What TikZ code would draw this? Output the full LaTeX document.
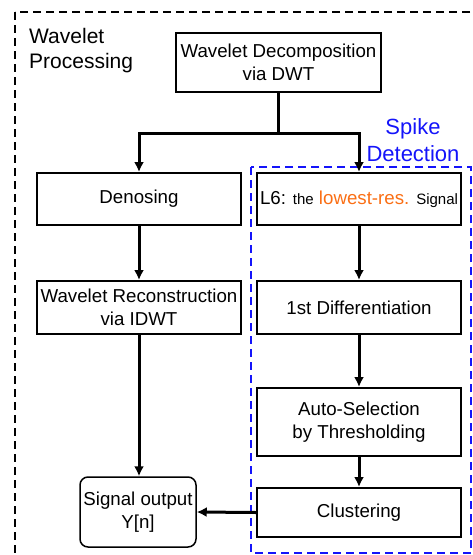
\documentclass[tikz,border=0pt]{standalone}
\usepackage{fontspec}
\setmainfont{Liberation Sans}
\usepackage{xcolor}
\usepackage{tikz}
\usetikzlibrary{calc}
\usetikzlibrary{arrows.meta}
\usetikzlibrary{positioning}
\definecolor{resorange}{RGB}{250,110,20}
\definecolor{spikeblue}{RGB}{20,20,250}

\begin{document}
\begin{tikzpicture}[x=1pt,y=-1pt,
	box/.style={draw,line width=2pt,inner sep=2pt,align=center,font=\fontsize{18.7}{23}\selectfont},
	arr/.style={line width=3pt,-{Latex[length=10pt,width=10pt]}}]
	\clip (0,0) rectangle (472,555);
	
	% outer frame and the spike detection frame
	\draw[line width=2pt,dash pattern=on 8pt off 5pt] (15,12) rectangle (500,580);
	\draw[spikeblue,line width=2pt,dash pattern=on 8pt off 5pt] (251,167) rectangle (471,553);
	\node [anchor=north west,inner sep=0pt,align=left,font=\fontsize{21}{25}\selectfont] (title) at (29,28) {Wavelet\\Processing};
	\node [spikeblue,inner sep=0pt,align=center,font=\fontsize{22}{27}\selectfont] (spike) at (413,140) {Spike\\Detection};
	
	\node [box,minimum width=205pt,minimum height=59pt] (dec) at (278.5,62.5) {Wavelet Decomposition\\via DWT};
	\node [box,minimum width=204pt,minimum height=52pt] (den) at (139,199) {Denosing};
	\node [box,minimum width=204pt,minimum height=52pt] (low) at (359,199) {L6: {\fontsize{15}{18}\selectfont the} \textcolor{resorange}{lowest-res.} {\fontsize{15}{18}\selectfont Signal}};
	\node [box,minimum width=204pt,minimum height=53pt] (rec) at (139,307.5) {Wavelet Reconstruction\\via IDWT};
	\node [box,minimum width=204pt,minimum height=53pt] (dif) at (359,307.5) {1st Differentiation};
	\node [box,minimum width=204pt,minimum height=68pt] (sel) at (359,422) {Auto-Selection\\by Thresholding};
	\node [box,minimum width=204pt,minimum height=49pt] (clu) at (359,512.5) {Clustering};
	\node [box,line width=1.5pt,rounded corners=8pt,minimum width=116pt,minimum height=70pt] (out) at (138,512) {Signal output\\Y[n]};
	
	\coordinate (split) at ($(dec.south)+(0,40)$);
	
	\draw[arr] (dec.south)--(split)-|(den.north);
	\draw[arr] (split)-|(low.north);
	\draw[arr] (den)--(rec);
	\draw[arr] (low)--(dif);
	\draw[arr] (dif)--(sel);
	\draw[arr] (sel)--(clu);
	\draw[arr] (rec.south)--(rec.south |- out.north);
	\draw[arr] (clu.west)--(out.east);
	
\end{tikzpicture}
\end{document}
